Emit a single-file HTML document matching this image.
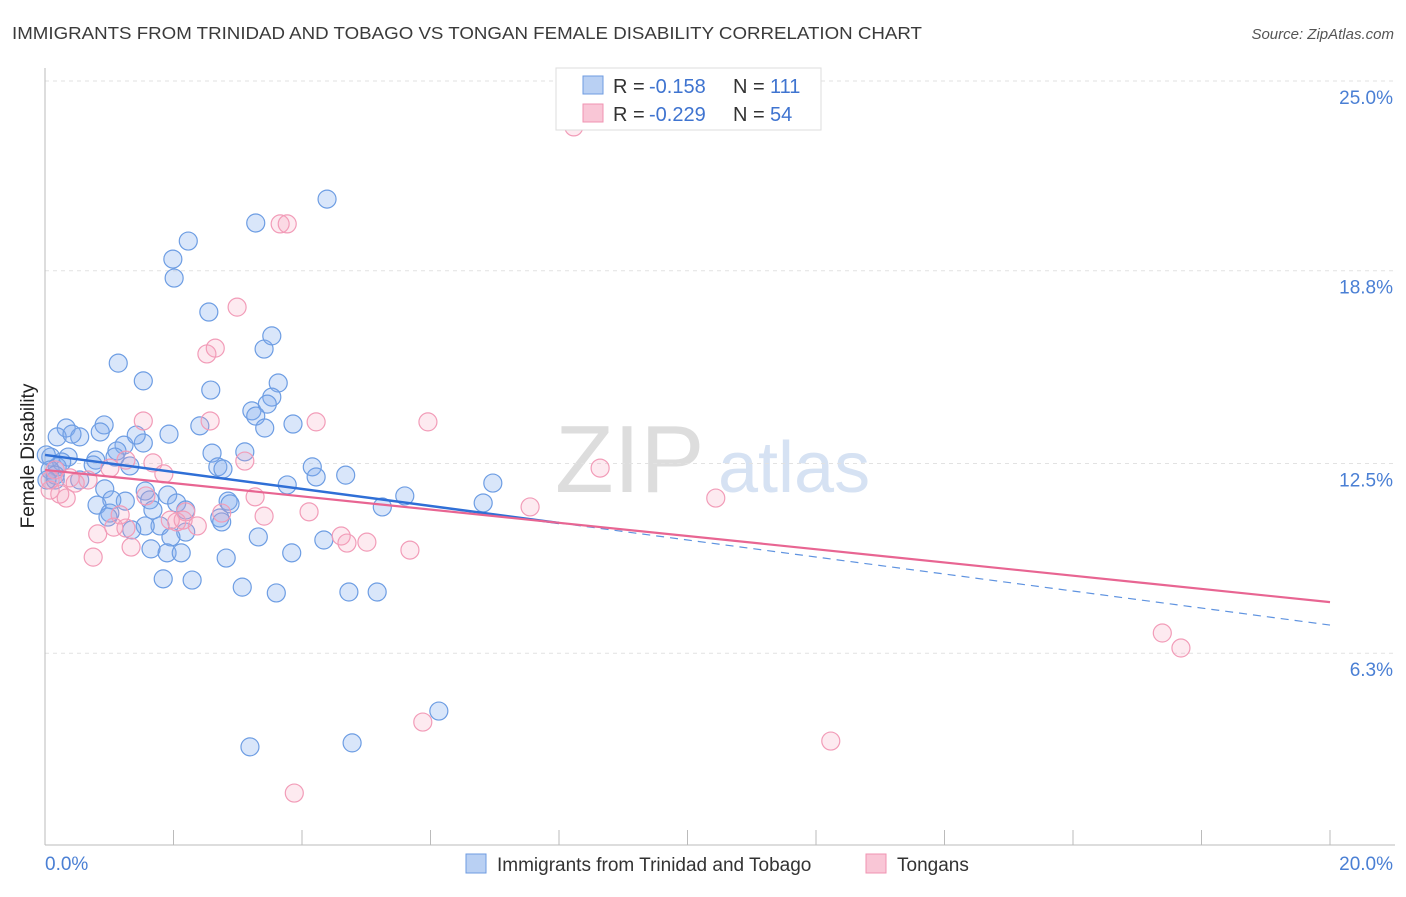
<!DOCTYPE html>
<html><head><meta charset="utf-8"><style>
body{margin:0;background:#fff;font-family:"Liberation Sans",sans-serif}
svg text{font-family:"Liberation Sans",sans-serif}
</style></head><body>
<svg id="c" width="1406" height="892">
<text x="12" y="39" font-size="17.5" fill="#3a3a3a" textLength="910" lengthAdjust="spacingAndGlyphs">IMMIGRANTS FROM TRINIDAD AND TOBAGO VS TONGAN FEMALE DISABILITY CORRELATION CHART</text>
<text x="1394" y="39" font-size="15" fill="#555" font-style="italic" text-anchor="end">Source: ZipAtlas.com</text>
<text x="555" y="492" font-size="96" fill="#ddd" font-family="Liberation Serif">ZIP</text>
<text x="718" y="492" font-size="72" fill="#d6e2f3">atlas</text>
<text x="34" y="456" font-size="19" fill="#222" text-anchor="middle" transform="rotate(-90 34 456)">Female Disability</text>
<g id="grid"></g><g id="pts"></g><g id="lines"></g>
<g>
<rect x="556" y="68" width="265" height="62" fill="#fff" stroke="#ddd"/>
<rect x="583" y="76" width="20" height="18" fill="#b9d0f3" stroke="#6e9be0"/>
<rect x="583" y="104" width="20" height="18" fill="#f9c6d6" stroke="#f093b2"/>
<text x="613" y="93" font-size="20" fill="#333">R = </text>
<text x="649" y="93" font-size="20" fill="#3f74d0">-0.158</text>
<text x="733" y="93" font-size="20" fill="#333">N = </text>
<text x="770" y="93" font-size="20" fill="#3f74d0">111</text>
<text x="613" y="121" font-size="20" fill="#333">R = </text>
<text x="649" y="121" font-size="20" fill="#3f74d0">-0.229</text>
<text x="733" y="121" font-size="20" fill="#333">N = </text>
<text x="770" y="121" font-size="20" fill="#3f74d0">54</text>
</g>
<g>
<rect x="466" y="854" width="20" height="19" fill="#b9d0f3" stroke="#6e9be0"/>
<text x="497" y="871" font-size="19" fill="#333">Immigrants from Trinidad and Tobago</text>
<rect x="866" y="854" width="20" height="19" fill="#f9c6d6" stroke="#f093b2"/>
<text x="897" y="871" font-size="19" fill="#333">Tongans</text>
</g>
</svg>
<script>
const yTicks=[25.0,18.8,12.5,6.3];
const yTickLabels=["25.0%","18.8%","12.5%","6.3%"];
const xTickLabels=["0.0%","20.0%"];
const blueX=[4.39,3.28,2.23,1.99,2.01,2.55,1.14,3.41,3.53,1.53,2.58,3.63,3.53,3.46,3.22,3.28,3.42,3.86,2.41,1.93,0.92,0.33,0.54,0.19,0.42,0.86,1.23,1.53,1.42,3.11,2.60,1.12,1.09,0.79,0.36,0.09,0.19,0.26,0.75,2.69,2.77,1.32,4.16,4.68,3.77,4.22,5.60,6.97,6.82,5.25,0.16,0.54,0.93,1.56,1.91,2.05,1.63,1.25,1.04,0.81,2.85,2.88,2.19,1.01,0.98,1.68,2.72,2.75,1.79,1.56,1.35,2.19,3.32,4.34,1.96,1.65,1.90,2.12,2.82,3.84,1.84,2.29,3.07,3.60,4.73,5.17,6.13,3.19,4.78,0.02,0.08,0.16,0.03];
const blueY=[21.14,20.36,19.77,19.18,18.56,17.45,15.78,16.24,16.67,15.20,14.90,15.13,14.67,14.44,14.22,14.05,13.66,13.79,13.73,13.46,13.76,13.66,13.37,13.37,13.46,13.53,13.10,13.17,13.43,12.88,12.84,12.91,12.71,12.61,12.71,12.71,12.39,12.55,12.45,12.39,12.32,12.42,12.39,12.12,11.80,12.06,11.44,11.86,11.21,11.08,11.96,11.96,11.67,11.60,11.47,11.21,11.31,11.27,11.31,11.14,11.27,11.18,10.98,10.88,10.75,10.98,10.72,10.59,10.46,10.46,10.33,10.26,10.10,10.00,10.10,9.71,9.58,9.58,9.41,9.58,8.73,8.69,8.46,8.27,8.30,8.30,4.41,3.24,3.37,12.78,12.29,12.12,11.96];
const pinkX=[8.23,3.66,3.77,2.99,2.65,2.52,4.22,5.96,1.53,2.57,3.11,1.68,1.85,8.64,10.44,7.55,3.27,1.57,0.23,0.33,0.08,0.47,1.01,1.26,4.11,3.41,2.75,2.19,2.05,2.37,1.07,1.26,4.61,4.70,5.01,5.68,0.82,1.34,0.75,5.88,3.88,12.23,17.39,17.68,0.08,0.16,0.67,1.95,2.15,1.17,0.39];
const pinkY=[23.50,20.33,20.33,17.61,16.27,16.08,13.86,13.86,13.89,13.89,12.58,12.52,12.16,12.35,11.37,11.08,11.41,11.44,11.50,11.37,11.63,11.86,12.35,12.61,10.92,10.78,10.88,10.92,10.59,10.46,10.42,10.39,10.13,9.90,9.93,9.67,10.20,9.77,9.44,4.05,1.73,3.43,6.96,6.47,11.96,12.29,11.96,10.65,10.65,10.82,12.03];
const blueTrend=[12.78,7.22];
const blueSolidEnd=8.0;
const pinkTrend=[12.29,7.97];
const NS="http://www.w3.org/2000/svg";
const X0=45,X1=1330,YT=81,PXPER=30.6;
const sx=v=>X0+v/20*(X1-X0);
const sy=v=>YT+(25-v)*PXPER;
function mk(tag,attrs,parent){const e=document.createElementNS(NS,tag);for(const k in attrs)e.setAttribute(k,attrs[k]);parent.appendChild(e);return e;}
const grid=document.getElementById('grid');
yTicks.forEach((t,i)=>{
 const l=mk('line',{x1:X0,x2:1395,y1:sy(t),y2:sy(t),stroke:'#e2e2e2','stroke-dasharray':'4,4'},grid);
 
 
 const tx=mk('text',{x:1393,y:sy(t)+23,'font-size':19,fill:'#4a7fd4','text-anchor':'end'},grid);
 tx.textContent=yTickLabels[i];
 
 
});
const ax=mk('line',{x1:X0,x2:X0,y1:68,y2:845,stroke:'#bbb'},grid);


const bx=mk('line',{x1:X0,x2:1395,y1:845,y2:845,stroke:'#bbb'},grid);


for(let i=0;i<=10;i++){
 const t=mk('line',{x1:sx(i*2),x2:sx(i*2),y1:830,y2:845,stroke:'#bbb'},grid);
 
 
}
[[0,'start',45],[20,'end',1393]].forEach((d,i)=>{
 const tx=mk('text',{x:d[2],y:870,'font-size':19,fill:'#4a7fd4','text-anchor':d[1]},grid);
 tx.textContent=xTickLabels[i];
 
 
});
const pts=document.getElementById('pts');
blueX.forEach((x,i)=>{
 const c=mk('circle',{cx:sx(x),cy:sy(blueY[i]),r:9,fill:'rgba(130,172,238,0.3)',stroke:'#6d9de3','stroke-width':1.2},pts);
 
 
});
pinkX.forEach((x,i)=>{
 const c=mk('circle',{cx:sx(x),cy:sy(pinkY[i]),r:9,fill:'rgba(245,160,188,0.22)',stroke:'#f29cb8','stroke-width':1.2},pts);
 
 
});
const lines=document.getElementById('lines');
const bAt=x=>blueTrend[0]+(blueTrend[1]-blueTrend[0])*x/20;
const l1=mk('line',{x1:sx(0),y1:sy(blueTrend[0]),x2:sx(blueSolidEnd),y2:sy(bAt(blueSolidEnd)),stroke:'#2f6fd6','stroke-width':2.5},lines);


const l2=mk('line',{x1:sx(blueSolidEnd),y1:sy(bAt(blueSolidEnd)),x2:sx(20),y2:sy(blueTrend[1]),stroke:'#5f93e0','stroke-width':1.2,'stroke-dasharray':'8,6'},lines);


const l3=mk('line',{x1:sx(0),y1:sy(pinkTrend[0]),x2:sx(20),y2:sy(pinkTrend[1]),stroke:'#e86592','stroke-width':2.2},lines);


</script>
</body></html>
